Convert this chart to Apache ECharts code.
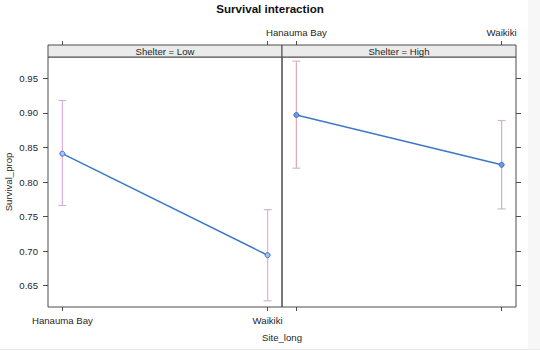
<!DOCTYPE html>
<html>
<head>
<meta charset="utf-8">
<script src="https://cdn.jsdelivr.net/npm/echarts@6/dist/echarts.min.js"></script>
<style>
html,body{margin:0;padding:0;background:#fff;}
#chart{width:540px;height:350px;}
</style>
</head>
<body>
<div id="chart"></div>
<script>
// ---- data ----
var sites = ['Hanauma Bay', 'Waikiki'];
var shelters = ['Low', 'High'];
var meanLow = [0.841, 0.694];
var lowerLow = [0.766, 0.628];
var upperLow = [0.918, 0.760];
var meanHigh = [0.897, 0.825];
var lowerHigh = [0.820, 0.761];
var upperHigh = [0.975, 0.889];
var yTicks = [0.65, 0.70, 0.75, 0.80, 0.85, 0.90, 0.95];

var FONT = 'Liberation Sans, Arial, Helvetica, sans-serif';
var AX = '#4d4d4d';
var TXT = '#262626';
var xPos = sites.map(function (s, i) { return i + 1; });

function lineData(vals) { return vals.map(function (v, i) { return [xPos[i], v]; }); }
function errData(lo, hi) { return lo.map(function (v, i) { return [xPos[i], v, hi[i]]; }); }

function errRender(color) {
  return function (params, api) {
    var x = api.value(0);
    var p1 = api.coord([x, api.value(1)]);
    var p2 = api.coord([x, api.value(2)]);
    var cw = 4;
    return {
      type: 'group',
      children: [
        { type: 'line', shape: { x1: p1[0], y1: p1[1], x2: p2[0], y2: p2[1] }, style: { stroke: color, lineWidth: 1.3 } },
        { type: 'line', shape: { x1: p1[0] - cw, y1: p1[1], x2: p1[0] + cw, y2: p1[1] }, style: { stroke: '#cdbac8', lineWidth: 1.2 } },
        { type: 'line', shape: { x1: p2[0] - cw, y1: p2[1], x2: p2[0] + cw, y2: p2[1] }, style: { stroke: '#cdbac8', lineWidth: 1.2 } }
      ]
    };
  };
}

function xAx(gridIndex, position, showLabel, offset) {
  return {
    type: 'value', gridIndex: gridIndex, position: position, offset: offset || 0,
    min: 0.93, max: 2.07,
    axisLine: { show: false },
    splitLine: { show: false },
    axisTick: { show: true, customValues: xPos, length: 4, inside: false, lineStyle: { color: AX, width: 1 } },
    axisLabel: {
      show: showLabel, customValues: xPos, margin: position === 'top' ? 8 : 8,
      color: TXT, fontSize: 9.6, fontFamily: FONT,
      formatter: function (v) { return sites[Math.round(v) - 1] || ''; }
    }
  };
}
function yAx(gridIndex, position, showLabel) {
  return {
    type: 'value', gridIndex: gridIndex, position: position,
    min: 0.619, max: 0.981,
    axisLine: { show: false },
    splitLine: { show: false },
    axisTick: { show: true, customValues: yTicks, length: 5, inside: false, lineStyle: { color: AX, width: 1 } },
    axisLabel: {
      show: showLabel, customValues: yTicks, margin: 10, color: TXT, fontSize: 9.6, fontFamily: FONT,
      formatter: function (v) { return v.toFixed(2); }
    },
    name: showLabel ? 'Survival_prop' : '',
    nameLocation: 'middle', nameGap: 35, nameRotate: 90,
    nameTextStyle: { color: TXT, fontSize: 9.6, fontFamily: FONT }
  };
}

var option = {
  animation: false,
  backgroundColor: '#ffffff',
  title: {
    text: 'Survival interaction', left: 'center', top: 2, padding: 0,
    textStyle: { fontSize: 11.6, fontWeight: 'bold', color: '#111', fontFamily: FONT }
  },
  grid: [
    { left: 48, width: 234, top: 57, bottom: 43, show: true, borderColor: AX, borderWidth: 1, backgroundColor: 'transparent' },
    { left: 282, width: 234, top: 57, bottom: 43, show: true, borderColor: AX, borderWidth: 1, backgroundColor: 'transparent' }
  ],
  xAxis: [
    xAx(0, 'bottom', true, 0),
    xAx(0, 'top', false, 12),
    xAx(1, 'bottom', false, 0),
    xAx(1, 'top', true, 12)
  ],
  yAxis: [
    yAx(0, 'left', true),
    yAx(1, 'right', false)
  ],
  graphic: [
    { type: 'rect', shape: { x: 528, y: 0, width: 12, height: 350 }, style: { fill: '#f7f7f7' }, z: 0, silent: true },
    { type: 'line', shape: { x1: 0, y1: 349.5, x2: 540, y2: 349.5 }, style: { stroke: '#e8e8e8', lineWidth: 1 }, z: 0, silent: true },
    { type: 'rect', shape: { x: 48, y: 45, width: 234, height: 12 }, style: { fill: '#ebebeb', stroke: AX, lineWidth: 1 }, z: 10 },
    { type: 'rect', shape: { x: 282, y: 45, width: 234, height: 12 }, style: { fill: '#ebebeb', stroke: AX, lineWidth: 1 }, z: 10 },
    { type: 'text', x: 165, y: 51, style: { text: 'Shelter = ' + shelters[0], fill: TXT, font: '9.6px ' + FONT, textAlign: 'center', textVerticalAlign: 'middle' }, z: 11 },
    { type: 'text', x: 399, y: 51, style: { text: 'Shelter = ' + shelters[1], fill: TXT, font: '9.6px ' + FONT, textAlign: 'center', textVerticalAlign: 'middle' }, z: 11 },
    { type: 'text', x: 282, y: 337, style: { text: 'Site_long', fill: TXT, font: '9.6px ' + FONT, textAlign: 'center', textVerticalAlign: 'middle' }, z: 11 }
  ],
  series: [
    { type: 'custom', xAxisIndex: 0, yAxisIndex: 0, renderItem: errRender('#e3b4e3'), data: errData(lowerLow, upperLow), z: 2, clip: false },
    { type: 'custom', xAxisIndex: 2, yAxisIndex: 1, renderItem: errRender('#e6a9b8'), data: errData(lowerHigh, upperHigh), z: 2, clip: false },
    { type: 'line', xAxisIndex: 0, yAxisIndex: 0, data: lineData(meanLow), symbol: 'circle', symbolSize: 5,
      lineStyle: { color: '#3b78c6', width: 1.5 }, itemStyle: { color: '#a9c2ee', borderColor: '#3f6fcf', borderWidth: 1 }, z: 3 },
    { type: 'line', xAxisIndex: 2, yAxisIndex: 1, data: lineData(meanHigh), symbol: 'circle', symbolSize: 5,
      lineStyle: { color: '#3b78c6', width: 1.5 }, itemStyle: { color: '#6f98e0', borderColor: '#3f6fcf', borderWidth: 1 }, z: 3 }
  ]
};

var chart = echarts.init(document.getElementById('chart'), null, { renderer: 'svg' });
chart.setOption(option);
</script>
</body>
</html>
